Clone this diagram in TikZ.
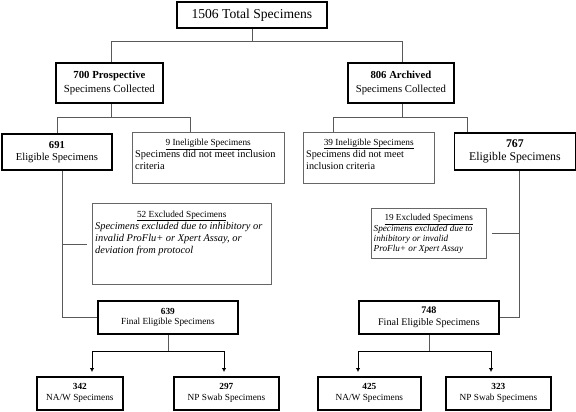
\documentclass[tikz,border=0pt]{standalone}
\usepackage{fontspec}
\setmainfont{Liberation Serif}
\usetikzlibrary{arrows.meta}
\newcommand{\myfs}[2]{\fontsize{#1}{#2}\selectfont}
\begin{document}
\begin{tikzpicture}[x=1pt,y=-1pt,
  tbox/.style={draw=black, line width=1.8pt, inner sep=0pt, anchor=north west, align=center},
  nbox/.style={draw=black!60, line width=0.8pt, inner sep=0pt, anchor=north west},
  ntext/.style={inner sep=0pt, anchor=north west, align=left},
  conn/.style={draw=black!65, line width=0.8pt},
  arr/.style={conn, draw=black, -{Latex[length=4pt,width=4.5pt]}, shorten >=4pt}
]
\useasboundingbox (0,0) rectangle (576,412);
\fill[white] (0,0) rectangle (576,412);

% thick boxes
\node[tbox, minimum width=150pt, minimum height=26pt, font=\myfs{13.6}{15}] (total) at (176,1) {1506 Total Specimens};
\node[tbox, minimum width=107pt, minimum height=40pt, font=\myfs{10.8}{14.5}] (pro) at (55,62) {\textbf{700 Prospective}\\Specimens Collected};
\node[tbox, minimum width=106pt, minimum height=40pt, font=\myfs{10.7}{14.5}] (arc) at (347,62) {\textbf{806 Archived}\\Specimens Collected};
\node[tbox, minimum width=110pt, minimum height=36pt, font=\myfs{10.6}{12.5}] (e691) at (1,133) {\textbf{691}\\Eligible Specimens};
\node[tbox, minimum width=121pt, minimum height=37pt, font=\myfs{11.8}{13.5}] (e767) at (453.5,132) {\textbf{767}\\Eligible Specimens};
\node[tbox, minimum width=140pt, minimum height=33pt, font=\myfs{9.3}{10.8}] (f639) at (97,300) {\textbf{639}\\Final Eligible Specimens};
\node[tbox, minimum width=140pt, minimum height=33pt, font=\myfs{10.1}{12}] (f748) at (358,300) {\textbf{748}\\Final Eligible Specimens};
\node[tbox, minimum width=86pt, minimum height=33pt, font=\myfs{9.3}{11}] (n342) at (36,376) {\textbf{342}\\NA/W Specimens};
\node[tbox, minimum width=105pt, minimum height=33pt, font=\myfs{9.3}{11}] (s297) at (173,376) {\textbf{297}\\NP Swab Specimens};
\node[tbox, minimum width=103pt, minimum height=33pt, font=\myfs{9.3}{11}] (n425) at (317,376) {\textbf{425}\\NA/W Specimens};
\node[tbox, minimum width=105pt, minimum height=33pt, font=\myfs{9.3}{11}] (s323) at (445,376) {\textbf{323}\\NP Swab Specimens};

% thin boxes
\node[nbox, minimum width=152pt, minimum height=51pt] (ine9) at (132,132) {};
\node[ntext, font=\myfs{10.4}{12}] (t9) at (135,139) {\makebox[146pt]{\myfs{9.3}{12}\underline{9 Ineligible Specimens}}\\Specimens did not meet inclusion\\criteria};
\node[nbox, minimum width=131pt, minimum height=51pt] (ine39) at (303,132) {};
\node[ntext, font=\myfs{10.2}{12}] (t39) at (306,138.5) {\makebox[125pt]{\myfs{9.3}{12}\underline{39 Ineligible Specimens}}\\Specimens did not meet\\inclusion criteria};
\node[nbox, minimum width=179pt, minimum height=81pt] (exc52) at (92,203) {};
\node[ntext, font=\myfs{10.4}{12}] (t52) at (95,210.5) {\makebox[173pt]{\myfs{9.3}{12}\underline{52 Excluded Specimens}}\\\textit{Specimens excluded due to inhibitory or}\\\textit{invalid ProFlu+ or Xpert Assay, or}\\\textit{deviation from protocol}};
\node[nbox, minimum width=115pt, minimum height=50pt] (exc19) at (371,208) {};
\node[ntext, font=\myfs{9.2}{10.4}] (t19) at (373.5,214.2) {\makebox[110pt]{\underline{19 Excluded Specimens}}\\\textit{Specimens excluded due to}\\\textit{inhibitory or invalid}\\\textit{ProFlu+ or Xpert Assay}};

% helper coordinates
\coordinate (lv1) at (0,41);
\coordinate (lv2) at (0,117);
\coordinate (lv3) at (0,351);
\coordinate (xp) at (111,0);
\coordinate (xa) at (402,0);
\coordinate (xl) at (62,0);
\coordinate (xr) at (519,0);
\coordinate (x9) at (190,0);
\coordinate (x39) at (333,0);
\coordinate (x767) at (467,0);
\coordinate (a1) at (92,0);
\coordinate (a2) at (224,0);
\coordinate (a3) at (358,0);
\coordinate (a4) at (491,0);

% connectors
\draw[conn] (total.south) -- (total.south |- lv1);
\draw[conn] (xp |- pro.north) -- (xp |- lv1) -- (xa |- lv1) -- (xa |- arc.north);
\draw[conn] (xp |- pro.south) -- (xp |- lv2);
\draw[conn] (e691.north) -- (e691.north |- lv2) -- (x9 |- lv2) -- (x9 |- ine9.north);
\draw[conn] (xa |- arc.south) -- (xa |- lv2);
\draw[conn] (x39 |- ine39.north) -- (x39 |- lv2) -- (x767 |- lv2) -- (x767 |- e767.north);
\draw[conn] (xl |- e691.south) -- (xl |- f639.west) -- (f639.west);
\draw[conn, shorten >=5pt] (xl |- exc52.west) -- (exc52.west);
\draw[conn] (xr |- e767.south) -- (xr |- f748.east) -- (f748.east);
\draw[conn, shorten <=5pt] (exc19.east) -- (xr |- exc19.east);
\draw[conn] (f639.south) -- (f639.south |- lv3);
\draw[arr] (f639.south |- lv3) -| (a1 |- n342.north);
\draw[arr] (f639.south |- lv3) -| (a2 |- s297.north);
\draw[conn] (f748.south) -- (f748.south |- lv3);
\draw[arr] (f748.south |- lv3) -| (a3 |- n425.north);
\draw[arr] (f748.south |- lv3) -| (a4 |- s323.north);
\end{tikzpicture}
\end{document}
